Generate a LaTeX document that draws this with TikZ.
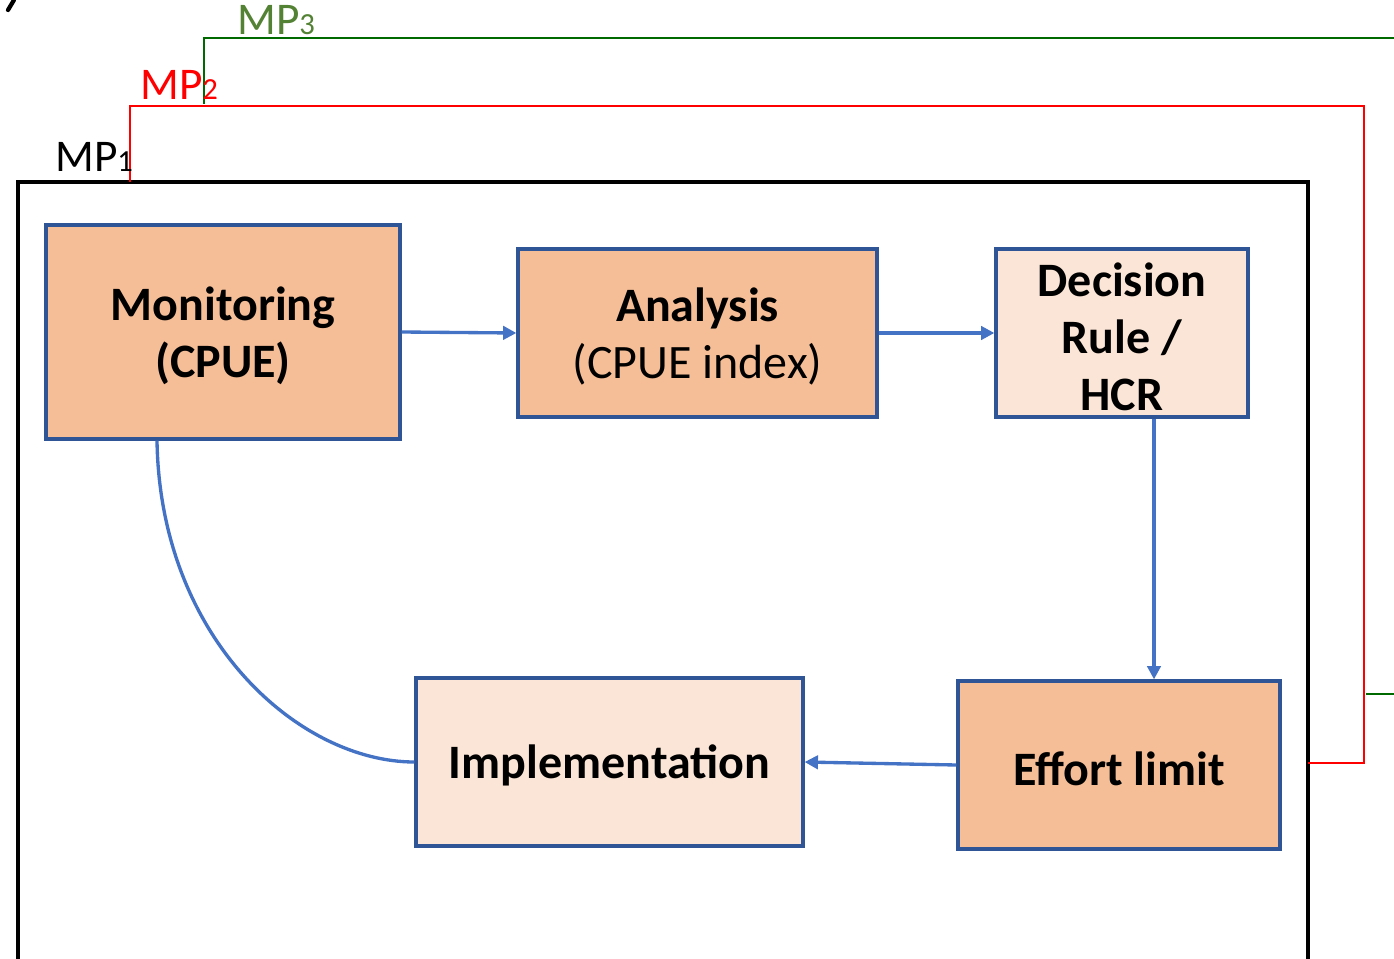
\documentclass[tikz,border=0pt]{standalone}
\usepackage{fontspec}
\setmainfont{Carlito}
\usetikzlibrary{arrows.meta}
\definecolor{boxorange}{HTML}{F5BE97}
\definecolor{boxpale}{HTML}{FBE5D6}
\definecolor{boxedge}{HTML}{2F5597}
\definecolor{flow}{HTML}{4472C4}
\definecolor{mpgreen}{HTML}{006A00}
\definecolor{mpgreentext}{HTML}{548235}
\tikzset{
  stage/.style={draw=boxedge, line width=2.4pt, inner sep=0pt},
  stageorange/.style={stage, fill=boxorange},
  stagepale/.style={stage, fill=boxpale},
  stagetext/.style={inner sep=0pt, align=center, yshift=-2.6pt,
    font=\fontsize{36}{42.75}\selectfont\bfseries},
  flowarrow/.style={draw=flow, line width=2.5pt, -{Triangle[length=10pt,width=10pt]}},
  mplabel/.style={anchor=base west, inner sep=0pt, font=\fontsize{34}{34}\selectfont},
}
\newcommand{\mpsub}[1]{{\fontsize{23}{23}\selectfont #1}}
\begin{document}
\begin{tikzpicture}[x=0.75pt, y=-0.75pt]
\useasboundingbox (0,0) rectangle (1394,959);

% small stroke at the top-left corner
\draw[line width=3.2pt, line cap=round] (8,10) -- (14,0);

% outer frame of MP1 (open at the bottom)
\draw[line width=2.3pt] (18,980) -- (18,182) -- (1308,182) -- (1308,980);

% MP2 bracket
\coordinate (r0) at (130,182);
\coordinate (r1) at (130,106);
\coordinate (r2) at (1364,106);
\coordinate (r3) at (1364,763);
\coordinate (r4) at (1308,763);
\draw[red, line width=1.9pt] (r0) -- (r1) -- (r2) -- (r3) -- (r4);

% MP3 bracket
\coordinate (g0) at (204,104);
\coordinate (g1) at (204,38);
\coordinate (g2) at (1400,38);
\coordinate (g3) at (1366,694);
\coordinate (g4) at (1400,694);
\draw[mpgreen, line width=1.7pt] (g0) -- (g1) -- (g2);
\draw[mpgreen, line width=1.7pt] (g3) -- (g4);

% labels
\node[mplabel] (mp1) at (55,172) {MP\mpsub{1}};
\node[mplabel, text=red] (mp2) at (140,100) {MP\mpsub{2}};
\node[mplabel, text=mpgreentext] (mp3) at (237,35) {MP\mpsub{3}};

% stages
\node[stageorange, minimum width=354*0.75pt, minimum height=214*0.75pt] (mon) at (223,332) {};
\node[stageorange, minimum width=359*0.75pt, minimum height=168*0.75pt] (ana) at (697.5,333) {};
\node[stagepale, minimum width=252*0.75pt, minimum height=168*0.75pt] (dec) at (1122,333) {};
\node[stageorange, minimum width=322*0.75pt, minimum height=168*0.75pt] (eff) at (1119,765) {};
\node[stagepale, minimum width=387*0.75pt, minimum height=168*0.75pt] (imp) at (609.5,762) {};

\node[stagetext] (mon-t) at (mon.center) {Monitoring\\(CPUE)};
\node[stagetext] (ana-t) at (ana.center) {Analysis\\{\mdseries (CPUE index)}};
\node[stagetext] (dec-t) at (dec.center) {Decision\\Rule /\\HCR};
\node[stagetext] (eff-t) at (eff.center) {Effort limit};
\node[stagetext] (imp-t) at (imp.center) {Implementation};

% flow between stages
\draw[flowarrow] (mon.east |- 0,332) -- (ana.west |- 0,333);
\draw[flowarrow] (ana.east) -- (dec.west);
\draw[flowarrow] (dec.south -| 1154,0) -- (eff.north -| 1154,0);
\draw[flowarrow] (eff.west) -- (imp.east);
\draw[draw=flow, line width=2.5pt] (mon.south -| 157,0) .. controls (160,640) and (300,762) .. (imp.west);
\end{tikzpicture}
\end{document}
